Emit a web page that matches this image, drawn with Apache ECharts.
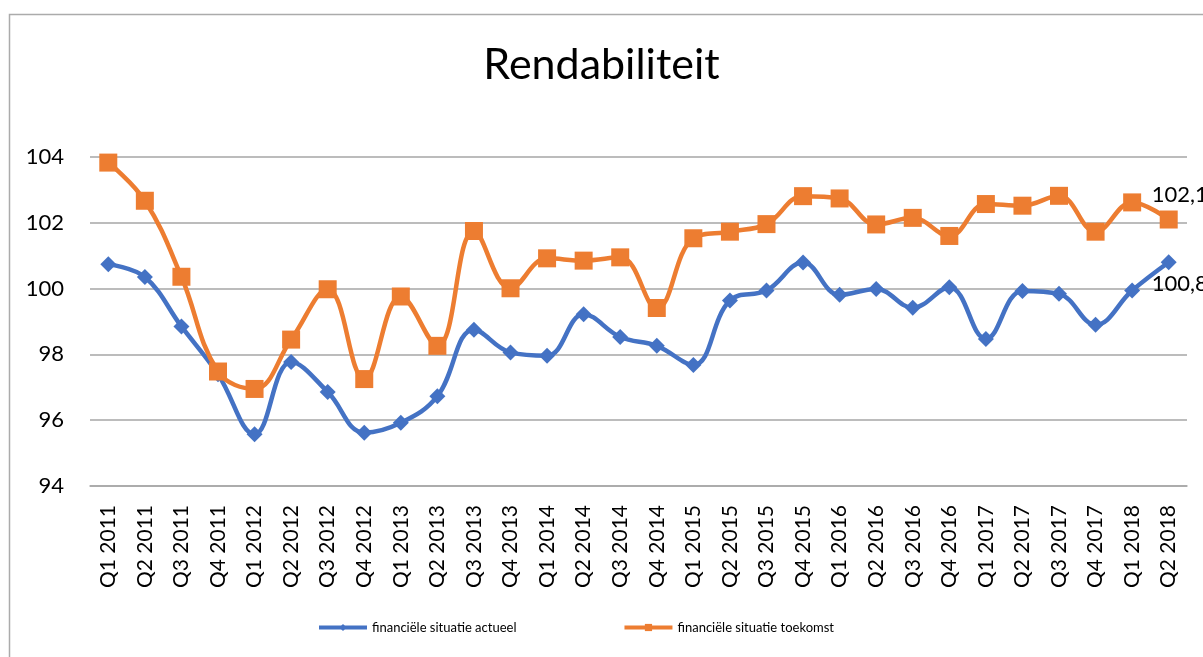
<!DOCTYPE html>
<html>
<head>
<meta charset="utf-8">
<script src="https://cdn.jsdelivr.net/npm/echarts@6/dist/echarts.min.js"></script>
<style>
html,body{margin:0;padding:0;background:#fff;}
#c{width:1203px;height:657px;}
</style>
</head>
<body>
<div id="c"></div>
<script>
const categories = ['Q1 2011','Q2 2011','Q3 2011','Q4 2011','Q1 2012','Q2 2012','Q3 2012','Q4 2012','Q1 2013','Q2 2013','Q3 2013','Q4 2013','Q1 2014','Q2 2014','Q3 2014','Q4 2014','Q1 2015','Q2 2015','Q3 2015','Q4 2015','Q1 2016','Q2 2016','Q3 2016','Q4 2016','Q1 2017','Q2 2017','Q3 2017','Q4 2017','Q1 2018','Q2 2018'];
const actueel = [100.74,100.35,98.85,97.4,95.57,97.77,96.86,95.62,95.92,96.73,98.75,98.06,97.96,99.22,98.53,98.26,97.68,99.64,99.94,100.79,99.81,99.99,99.42,100.04,98.47,99.93,99.84,98.90,99.94,100.8];
const toekomst = [103.83,102.67,100.36,97.48,96.95,98.45,99.98,97.25,99.76,98.26,101.75,100.01,100.92,100.85,100.95,99.41,101.53,101.73,101.96,102.81,102.74,101.95,102.15,101.6,102.57,102.52,102.82,101.73,102.62,102.1];
const seriesNames = ['financiële situatie actueel','financiële situatie toekomst'];
const yTicks = {min:94, max:104, interval:2};

const FONT = 'Lato, "Open Sans", sans-serif';
const fmt = v => v.toFixed(1).replace('.', ',');

function buildData(arr, labelOffset) {
  return arr.map((v, i) => i === arr.length - 1 ? {
    value: v,
    label: {show:true, position:'right', distance:0, offset:labelOffset,
      formatter: p => fmt(p.value), fontFamily:FONT, fontSize:22, color:'#000'}
  } : v);
}

const chart = echarts.init(document.getElementById('c'), null, {renderer:'canvas'});
chart.setOption({
  backgroundColor:'#fff',
  animation:false,
  title:{text:'Rendabiliteit', left:'center', top:39,
    textStyle:{fontFamily:FONT, fontSize:43, fontWeight:'normal', color:'#000'}},
  graphic:[{type:'rect', left:7, top:12, shape:{x:0,y:0,width:1300,height:700},
    style:{fill:'none', stroke:'#ABABAB', lineWidth:1.5}, silent:true}],
  legend:{bottom:18, left:312, itemWidth:48, itemHeight:9, itemGap:106,
    lineStyle:{width:4},
    textStyle:{fontFamily:FONT, fontSize:13, color:'#000'},
    data:seriesNames},
  grid:{left:90, right:16, top:157, bottom:171, containLabel:false},
  xAxis:{type:'category', data:categories, boundaryGap:true,
    axisLine:{lineStyle:{color:'#A6A6A6', width:1.5}},
    axisTick:{show:false},
    axisLabel:{rotate:90, interval:0, margin:19, fontFamily:FONT, fontSize:21, color:'#000'}},
  yAxis:{type:'value', min:yTicks.min, max:yTicks.max, interval:yTicks.interval,
    axisLine:{show:false}, axisTick:{show:false},
    splitLine:{lineStyle:{color:'#A6A6A6', width:1.5}},
    axisLabel:{margin:26, fontFamily:FONT, fontSize:22, color:'#000'}},
  series:[
    {name:seriesNames[0], type:'line', smooth:0.4, data:buildData(actueel,[-25,22]),
      symbol:'diamond', symbolSize:16, color:'#4472C4',
      lineStyle:{width:4.5, color:'#4472C4'}, itemStyle:{color:'#4472C4'}, z:2},
    {name:seriesNames[1], type:'line', smooth:0.4, data:buildData(toekomst,[-26,-25]),
      symbol:'rect', symbolSize:18, color:'#ED7D31',
      lineStyle:{width:4.5, color:'#ED7D31'}, itemStyle:{color:'#ED7D31'}, z:3}
  ]
});
</script>
</body>
</html>
